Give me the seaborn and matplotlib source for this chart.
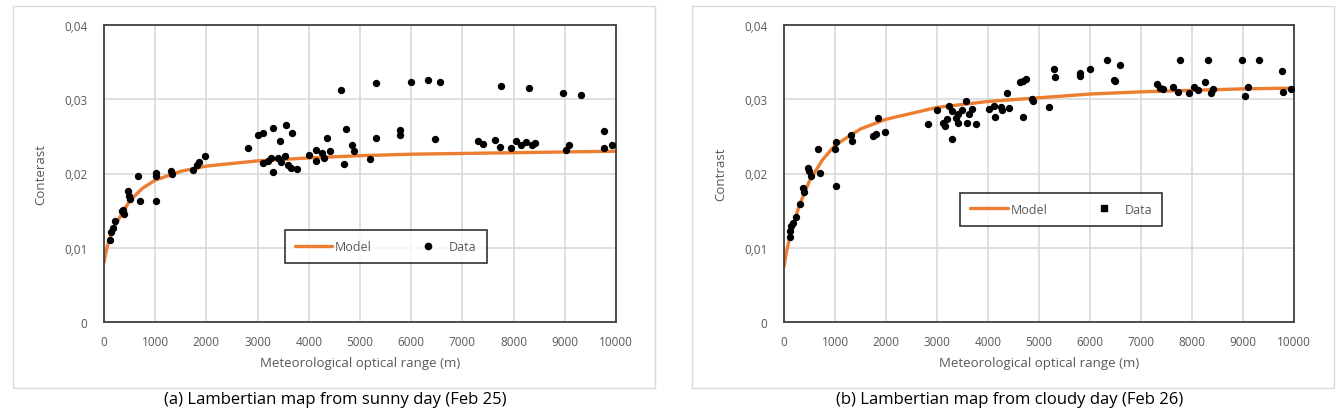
import matplotlib
matplotlib.use("Agg")
import matplotlib.pyplot as plt
from matplotlib.lines import Line2D
from matplotlib.patches import Rectangle
import seaborn as sns

# model curves
model_x = [0, 50, 100, 200, 300, 500, 750, 1000, 1500, 2000, 3000, 4000,
           5000, 6000, 7000, 8000, 9000, 10000]
sunny_model = [0.0080, 0.0098, 0.0110, 0.0128, 0.0140, 0.0163, 0.0180, 0.0191,
               0.0203, 0.0210, 0.0217, 0.0221, 0.0224, 0.0226, 0.0227, 0.0228,
               0.0229, 0.0230]
cloudy_model = [0.0075, 0.0095, 0.0110, 0.0135, 0.0157, 0.0190, 0.0218, 0.0238,
                0.0260, 0.0273, 0.0289, 0.0297, 0.0302, 0.0307, 0.0310, 0.0312,
                0.0314, 0.0315]

# measured points, sunny day (Feb 25)
sunny_x = [4632, 5308, 5993, 6331, 6568, 7760, 8309, 8960, 9307,
           2806, 3001, 3111, 3305, 3432, 3550, 3677, 4362, 4717, 5790, 5790,
           6467, 5317, 7295, 7405, 7633, 7735, 7946, 8039, 8140, 8242, 8360,
           8419, 9028, 9079, 9763, 9772, 9915,
           3111, 3195, 3254, 3305, 3390, 3449, 3533, 3601, 3643, 3770, 4007,
           4142, 4134, 4260, 4294, 4413, 4683, 4844, 4886, 5199,
           118, 135, 169, 220, 347, 389, 372, 473, 490, 516, 668, 710, 1014,
           1014, 1023, 1310, 1319, 1741, 1809, 1851, 1978]
sunny_y = [0.0313, 0.0322, 0.0323, 0.0326, 0.0323, 0.0318, 0.0315, 0.0308, 0.0306,
           0.0235, 0.0252, 0.0254, 0.0261, 0.0244, 0.0265, 0.0254, 0.0248, 0.0260,
           0.0259, 0.0252, 0.0247, 0.0248, 0.0244, 0.0240, 0.0245, 0.0236, 0.0234,
           0.0244, 0.0239, 0.0243, 0.0238, 0.0241, 0.0232, 0.0239, 0.0257, 0.0235,
           0.0238,
           0.0214, 0.0217, 0.0221, 0.0202, 0.0221, 0.0216, 0.0224, 0.0212, 0.0207,
           0.0206, 0.0225, 0.0217, 0.0232, 0.0228, 0.0221, 0.0230, 0.0213, 0.0239,
           0.0230, 0.0220,
           0.0111, 0.0121, 0.0126, 0.0136, 0.0150, 0.0146, 0.0151, 0.0176, 0.0170,
           0.0166, 0.0197, 0.0163, 0.0201, 0.0196, 0.0163, 0.0203, 0.0200, 0.0205,
           0.0211, 0.0215, 0.0224]

# measured points, cloudy day (Feb 26)
cloudy_x = [6331, 7771, 8322, 8975, 9305, 6585, 5992, 5297, 5314, 5797, 5797,
            9763, 4619, 4678, 4737, 6475, 6492, 7305, 7364, 7432, 7627, 7729,
            7941, 8042, 8127, 8246, 8364, 8407, 9042, 9093, 9788, 9932,
            4364, 4856, 4873, 5195, 4678, 4144, 4025, 4127, 4254, 4280, 4407,
            3678, 3619, 3593, 3771, 3559, 3492, 3407, 3364, 3297, 3237, 3195,
            3153, 3110, 3008, 2814, 3297, 3407,
            1754, 1797, 1975, 1839, 1314, 1331, 1017, 1000, 1017, 661, 703,
            466, 483, 534, 381, 398, 314, 229, 169, 144, 119, 127]
cloudy_y = [0.0353, 0.0353, 0.0353, 0.0353, 0.0353, 0.0346, 0.0341, 0.0341, 0.0330,
            0.0335, 0.0331, 0.0338, 0.0323, 0.0325, 0.0327, 0.0326, 0.0324, 0.0320,
            0.0315, 0.0314, 0.0317, 0.0310, 0.0309, 0.0316, 0.0313, 0.0323, 0.0309,
            0.0314, 0.0305, 0.0316, 0.0310, 0.0314,
            0.0308, 0.0301, 0.0298, 0.0290, 0.0276, 0.0276, 0.0287, 0.0291, 0.0290,
            0.0286, 0.0288, 0.0287, 0.0280, 0.0268, 0.0266, 0.0298, 0.0286, 0.0280,
            0.0275, 0.0284, 0.0291, 0.0273, 0.0264, 0.0268, 0.0285, 0.0266, 0.0247,
            0.0268,
            0.0250, 0.0253, 0.0256, 0.0275, 0.0252, 0.0244, 0.0243, 0.0233, 0.0183,
            0.0233, 0.0201, 0.0207, 0.0203, 0.0196, 0.0181, 0.0175, 0.0159, 0.0142,
            0.0133, 0.0129, 0.0122, 0.0115]

x_ticks = [0, 1000, 2000, 3000, 4000, 5000, 6000, 7000, 8000, 9000, 10000]
y_ticks = [0, 0.01, 0.02, 0.03, 0.04]
y_tick_labels = ["0", "0,01", "0,02", "0,03", "0,04"]

sns.set_style("white")
plt.rcParams['font.family'] = ['Open Sans', 'DejaVu Sans']

ORANGE = "#ED7D31"
GREY = "#595959"

fig = plt.figure(figsize=(13.41, 4.10), dpi=100)
W, H = 1341, 410

# outer frames around each panel
for x0, x1 in [(13, 655), (692, 1334)]:
    fig.patches.append(Rectangle((x0 / W, 1 - 389 / H), (x1 - x0) / W, (389 - 7) / H,
                                 transform=fig.transFigure, fill=False,
                                 edgecolor="#D9D9D9", linewidth=1.0))

panels = [
    dict(box=(104, 616), mx=sunny_model, x=sunny_x, y=sunny_y, ylabel="Conterast",
         marker="o", leg=(0.55, 0.253),
         caption="(a) Lambertian map from sunny day (Feb 25)", cx=335),
    dict(box=(784, 1294), mx=cloudy_model, x=cloudy_x, y=cloudy_y, ylabel="Contrast",
         marker="s", leg=(0.544, 0.38),
         caption="(b) Lambertian map from cloudy day (Feb 26)", cx=1010),
]

for p in panels:
    x0, x1 = p["box"]
    ax = fig.add_axes([x0 / W, 1 - 323 / H, (x1 - x0) / W, (323 - 26) / H])
    sns.lineplot(x=model_x, y=p["mx"], ax=ax, color=ORANGE, linewidth=2.4, zorder=2)
    sns.scatterplot(x=p["x"], y=p["y"], ax=ax, color="black", marker="o", s=28,
                    edgecolor="black", linewidth=0, zorder=3)
    ax.set_xlim(0, 10000)
    ax.set_ylim(0, 0.04)
    ax.set_xticks(x_ticks)
    ax.set_xticklabels([str(t) for t in x_ticks])
    ax.set_yticks(y_ticks)
    ax.set_yticklabels(y_tick_labels)
    ax.grid(True, color="#D9D9D9", linewidth=1.2)
    ax.set_axisbelow(True)
    for s in ax.spines.values():
        s.set_color("#404040")
        s.set_linewidth(1.3)
    ax.tick_params(axis="both", length=0, labelsize=8.5, colors=GREY)
    ax.tick_params(axis="x", pad=9)
    ax.tick_params(axis="y", pad=12)
    ax.set_xlabel("Meteorological optical range (m)", fontsize=9.5, color=GREY, labelpad=6)
    ax.set_ylabel(p["ylabel"], fontsize=9.5, color=GREY, labelpad=12)
    handles = [Line2D([], [], color=ORANGE, linewidth=2.4),
               Line2D([], [], color="black", marker=p["marker"], linestyle="none",
                      markersize=4.5)]
    leg = ax.legend(handles, ["Model", "Data"], ncol=2, loc="center",
                    bbox_to_anchor=p["leg"], frameon=True, fancybox=False,
                    handlelength=3.0, handletextpad=0.2, columnspacing=3.0,
                    fontsize=9, borderpad=0.8)
    leg.get_frame().set_edgecolor("black")
    leg.get_frame().set_linewidth(1.2)
    for t in leg.get_texts():
        t.set_color(GREY)
    fig.text(p["cx"] / W, 1 - 392 / H, p["caption"], ha="center", va="top",
             fontsize=12, color="black")

fig.savefig("out.png", dpi=100)
